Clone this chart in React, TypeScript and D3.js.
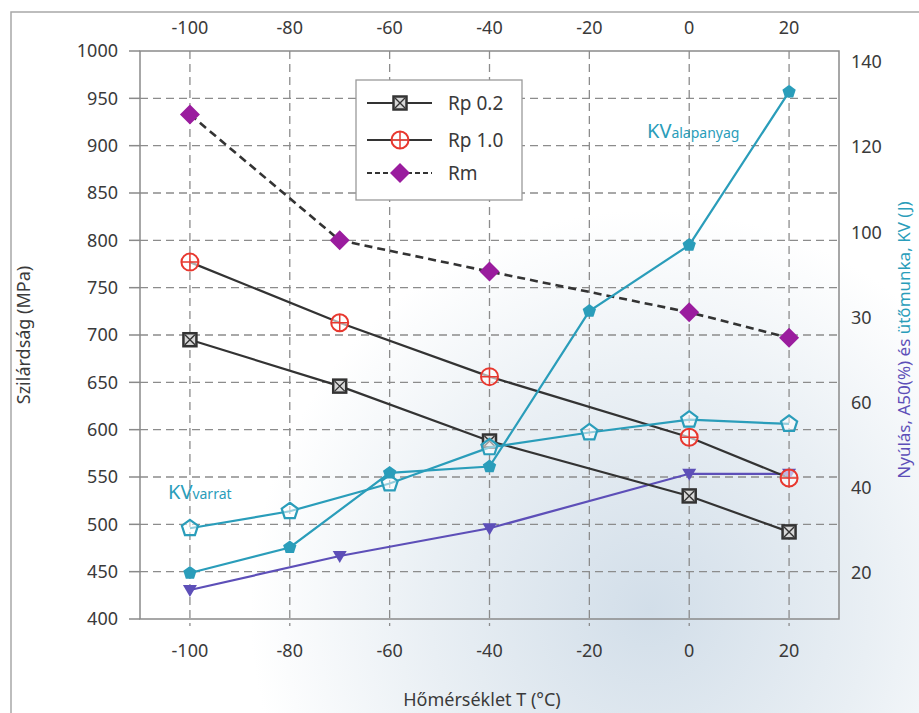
import React from 'react';
import * as d3 from 'd3';

// temperatures (°C) and values
const rpTemps = [-100, -70, -40, 0, 20];
const rp02 = [695, 646, 588, 530, 492];
const rp10 = [777, 713, 656, 592, 549];
const rm = [933, 800, 767, 724, 697];

const kvTemps = [-100, -80, -60, -40, -20, 0, 20];
const kvAlap = [20, 26, 43.5, 45, 81.5, 97, 133];
const kvVarrat = [30.5, 34.5, 41, 49.5, 53, 56, 55];

const a50Temps = [-100, -70, -40, 0, 20];
const a50 = [16, 24, 30.5, 43.3, 43.3];

const xTicks = [-100, -80, -60, -40, -20, 0, 20];
const yTicks = [400, 450, 500, 550, 600, 650, 700, 750, 800, 850, 900, 950, 1000];
const rightTicks = [140, 120, 100, 80, 60, 40, 20];
const rightLabels = ['140', '120', '100', '30', '60', '40', '20'];

const legendItems = ['Rp 0.2', 'Rp 1.0', 'Rm'];

const W = 919;
const H = 713;
const FONT = '"Noto Sans", "Open Sans", sans-serif';
const TEXT = '#3a3a3a';
const TEAL = '#2a9dba';
const PURPLE = '#5d4fb8';
const RED = '#e8382f';
const MAGENTA = '#9a1c9e';

const pentagon = (r: number) =>
  d3.range(5).map(k => {
    const a = (-90 + k * 72) * Math.PI / 180;
    return [r * Math.cos(a), r * Math.sin(a)];
  }).map(p => p.join(',')).join(' ');

const SquareX = ({ cx, cy }: { cx: number; cy: number }) => (
  <g transform={`translate(${cx},${cy})`}>
    <rect x={-6.5} y={-6.5} width={13} height={13} fill="#d8d8d8" stroke="#333" strokeWidth={2.5} />
    <path d="M-5,-5L5,5M5,-5L-5,5" stroke="#333" strokeWidth={1.4} />
  </g>
);

const CirclePlus = ({ cx, cy }: { cx: number; cy: number }) => (
  <g transform={`translate(${cx},${cy})`}>
    <circle r={8.5} fill="white" fillOpacity={0.6} stroke={RED} strokeWidth={2} />
    <path d="M-8.5,0H8.5M0,-8.5V8.5" stroke={RED} strokeWidth={1.5} />
  </g>
);

const Diamond = ({ cx, cy }: { cx: number; cy: number }) => (
  <path transform={`translate(${cx},${cy})`} d="M0,-10L10,0L0,10L-10,0Z" fill={MAGENTA} />
);

export default function App() {
  const x = d3.scaleLinear().domain([-110, 30]).range([140, 839]);
  const y = d3.scaleLinear().domain([400, 1000]).range([619, 51]);
  const yR = d3.scaleLinear().domain([20, 140]).range([573, 62]);

  const lineL = (ts: number[], vs: number[]) =>
    d3.line<number>().x((_, i) => x(ts[i])).y(v => y(v))(vs) || '';
  const lineR = (ts: number[], vs: number[]) =>
    d3.line<number>().x((_, i) => x(ts[i])).y(v => yR(v))(vs) || '';

  const [x0, x1] = x.range();
  const [yb, yt] = y.range();

  return (
    <svg width={W} height={H} style={{ position: 'absolute', left: 0, top: 0, fontFamily: FONT }}>
      <defs>
        <radialGradient id="scan" cx="650" cy="610" r="400" gradientUnits="userSpaceOnUse">
          <stop offset="0%" stopColor="#d2dee9" />
          <stop offset="55%" stopColor="#e9eff4" />
          <stop offset="100%" stopColor="#ffffff" />
        </radialGradient>
      </defs>
      <rect width={W} height={H} fill="url(#scan)" />
      <path d={`M11,${H}V12H${W}`} fill="none" stroke="#a8a8a8" strokeWidth={1.5} />

      {/* grid */}
      {yTicks.slice(1, -1).map(t => (
        <line key={'h' + t} x1={x0} x2={x1} y1={y(t)} y2={y(t)} stroke="#8c8c8c" strokeWidth={1.3} strokeDasharray="8,5" />
      ))}
      {xTicks.map(t => (
        <line key={'v' + t} x1={x(t)} x2={x(t)} y1={yt} y2={yb + 7} stroke="#8c8c8c" strokeWidth={1.3} strokeDasharray="8,5" />
      ))}
      <rect x={x0} y={yt} width={x1 - x0} height={yb - yt} fill="none" stroke="#8a8a8a" strokeWidth={1.5} />

      {/* left axis */}
      {yTicks.map(t => (
        <g key={'l' + t}>
          <line x1={x0 - 11} x2={x0} y1={y(t)} y2={y(t)} stroke="#8a8a8a" strokeWidth={1.5} />
          <text x={118} y={y(t)} dy="0.35em" textAnchor="end" fontSize={18} fill={TEXT}>{t}</text>
        </g>
      ))}
      {/* right axis */}
      {rightTicks.map((t, i) => (
        <text key={'r' + t} x={851} y={yR(t)} dy="0.35em" fontSize={18} fill={TEXT}>{rightLabels[i]}</text>
      ))}
      {/* top and bottom labels */}
      {xTicks.map(t => (
        <g key={'x' + t}>
          <text x={x(t)} y={28} dy="0.35em" textAnchor="middle" fontSize={18} fill={TEXT}>{t}</text>
          <text x={x(t)} y={651} dy="0.35em" textAnchor="middle" fontSize={18} fill={TEXT}>{t}</text>
        </g>
      ))}

      {/* axis titles */}
      <text x={482} y={700} dy="0.35em" textAnchor="middle" fontSize={18} fill={TEXT}>Hőmérséklet T (°C)</text>
      <text transform="translate(24,335) rotate(-90)" textAnchor="middle" dy="0.35em" fontSize={18} fill={TEXT}>Szilárdság (MPa)</text>
      <text transform="translate(904,340) rotate(-90)" textAnchor="middle" dy="0.35em" fontSize={17}>
        <tspan fill={PURPLE}>Nyúlás, A50(%) és </tspan>
        <tspan fill={TEAL}>ütőmunka, KV (J)</tspan>
      </text>

      {/* A50 */}
      <path d={lineR(a50Temps, a50)} fill="none" stroke={PURPLE} strokeWidth={2.2} />
      {a50.map((v, i) => (
        <path key={'a' + i} transform={`translate(${x(a50Temps[i])},${yR(v)})`} d="M-7,-5H7L0,7Z" fill={PURPLE} />
      ))}

      {/* Rp 0.2 */}
      <path d={lineL(rpTemps, rp02)} fill="none" stroke="#333" strokeWidth={2.2} />
      {rp02.map((v, i) => <SquareX key={'s' + i} cx={x(rpTemps[i])} cy={y(v)} />)}

      {/* Rp 1.0 */}
      <path d={lineL(rpTemps, rp10)} fill="none" stroke="#333" strokeWidth={2.2} />
      {rp10.map((v, i) => <CirclePlus key={'c' + i} cx={x(rpTemps[i])} cy={y(v)} />)}

      {/* Rm */}
      <path d={lineL(rpTemps, rm)} fill="none" stroke="#333" strokeWidth={2.6} strokeDasharray="8,5" />
      {rm.map((v, i) => <Diamond key={'d' + i} cx={x(rpTemps[i])} cy={y(v)} />)}

      {/* KV */}
      <path d={lineR(kvTemps, kvVarrat)} fill="none" stroke={TEAL} strokeWidth={2.2} />
      <path d={lineR(kvTemps, kvAlap)} fill="none" stroke={TEAL} strokeWidth={2.2} />
      {kvVarrat.map((v, i) => (
        <polygon key={'o' + i} transform={`translate(${x(kvTemps[i])},${yR(v)})`} points={pentagon(8.5)} fill="white" fillOpacity={0.5} stroke={TEAL} strokeWidth={2.2} />
      ))}
      {kvAlap.map((v, i) => (
        <polygon key={'f' + i} transform={`translate(${x(kvTemps[i])},${yR(v)})`} points={pentagon(7)} fill={TEAL} />
      ))}

      <text x={168} y={499} fontSize={20} fill={TEAL}>KV<tspan fontSize={14}>varrat</tspan></text>
      <text x={647} y={138} fontSize={20} fill={TEAL}>KV<tspan fontSize={14}>alapanyag</tspan></text>

      {/* legend */}
      <rect x={356} y={80} width={166} height={120} fill="white" stroke="#9a9a9a" strokeWidth={1.3} />
      {legendItems.map((name, i) => {
        const ly = [103, 140, 173][i];
        return (
          <g key={name}>
            <line x1={367} x2={432} y1={ly} y2={ly} stroke="#333" strokeWidth={2.2} strokeDasharray={i === 2 ? '5,3' : undefined} />
            {i === 0 && <SquareX cx={400} cy={ly} />}
            {i === 1 && <CirclePlus cx={400} cy={ly} />}
            {i === 2 && <Diamond cx={400} cy={ly} />}
            <text x={448} y={ly} dy="0.35em" fontSize={19} fill={TEXT}>{name}</text>
          </g>
        );
      })}
    </svg>
  );
}
